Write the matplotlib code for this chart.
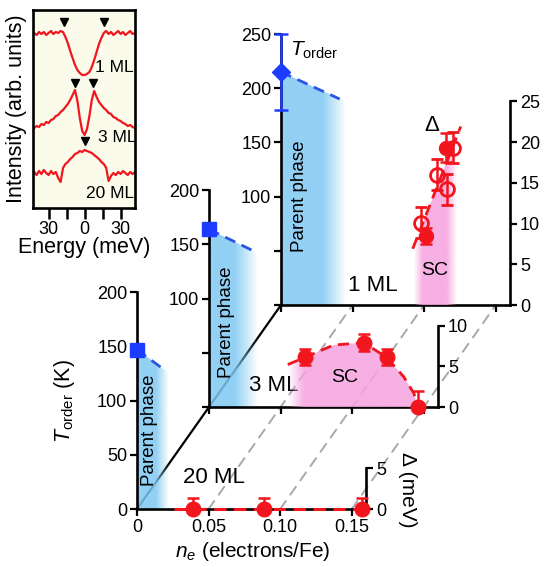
import numpy as np
import matplotlib
matplotlib.use("Agg")
import matplotlib.pyplot as plt
from matplotlib.colors import to_rgb
from matplotlib.patches import ConnectionPatch

plt.rcParams["font.family"] = ["Liberation Sans", "DejaVu Sans"]
plt.rcParams["mathtext.fontset"] = "custom"
plt.rcParams["mathtext.rm"] = "Liberation Sans"
plt.rcParams["mathtext.it"] = "Liberation Sans:italic"

# ============================================================
# DATA
# ============================================================
# inset tunnelling spectra (meV, arb. units, already offset)
energy = [-42, -40, -38, -36, -34, -32, -30, -28, -26, -24, -22, -20, -18, -16,
          -14, -12, -10, -8, -6, -4, -2, 0, 2, 4, 6, 8, 10, 12, 14, 16, 18, 20,
          22, 24, 26, 28, 30, 32, 34, 36, 38, 40, 42]
spec_1ml = [175, 173, 176, 174, 176, 173, 175, 177, 174, 176, 175, 177, 176, 171,
            165, 157, 150, 143, 138, 135, 133, 133, 134, 136, 141, 148, 156, 164,
            170, 175, 177, 174, 176, 173, 175, 177, 174, 176, 173, 175, 177, 174, 175]
spec_3ml = [80, 82, 81, 84, 83, 86, 85, 88, 89, 92, 93, 96, 98, 101, 104, 108,
            113, 118, 107, 90, 77, 73, 79, 92, 108, 117, 111, 106, 103, 100, 98,
            95, 94, 91, 90, 88, 87, 85, 84, 82, 83, 81, 80]
spec_20ml = [36, 33, 37, 34, 38, 35, 33, 37, 34, 36, 30, 26, 40, 44, 46, 49, 51,
             54, 55, 57, 56, 58, 57, 56, 55, 53, 51, 49, 46, 44, 40, 27, 32, 35,
             33, 36, 34, 37, 35, 33, 36, 34, 36]
peak_E = [-17, 16, -8, 7, 0]
peak_I = [186, 186, 125, 125, 67]

# 20 ML
t20_n = [0.0, 0.0195]
t20_T = [147, 128]
blue20_n = [0.0, 0.022]
blue20_T = [147, 126]
d20_n = [0.039, 0.089, 0.157]
d20_D = [0, 0, 0]
d20_err = [1.4, 1.4, 1.4]
d20_line_n = [0.026, 0.160]
d20_line_D = [0, 0]

# 3 ML
t3_n = [0.0, 0.031]
t3_T = [164, 144]
blue3_n = [0.0, 0.034]
blue3_T = [164, 142]
d3_n = [0.067, 0.108, 0.124, 0.146]
d3_D = [6.1, 7.9, 6.1, 0.0]
d3_lo = [1.0, 1.0, 1.0, 0.0]
d3_hi = [1.0, 1.0, 1.0, 2.0]
d3_curve_n = [0.055, 0.067, 0.087, 0.108, 0.124, 0.136, 0.143, 0.146]
d3_curve_D = [5.2, 6.1, 7.6, 7.9, 6.1, 3.7, 1.7, 0.0]

# 1 ML
t1_n = [0.0, 0.041]
t1_T = [215, 190]
t1_err = 35
blue1_n = [0.0, 0.045]
blue1_T = [215, 188]
d1_line_n = [0.092, 0.1255]
d1_line_D = [6.9, 21.9]
pink1_n = [0.093, 0.123]
pink1_D = [7.3, 20.8]
d1_full_n = [0.101, 0.115]
d1_full_D = [8.5, 19.3]
d1_full_err = [1.0, 1.8]
d1_open_n = [0.098, 0.109, 0.116, 0.120]
d1_open_D = [10.1, 16.0, 14.2, 19.3]
d1_open_err = [1.9, 1.9, 1.9, 1.9]

n_ticks = [0, 0.05, 0.10, 0.15]
n_ticklabels = ["0", "0.05", "0.10", "0.15"]

# ============================================================
# LAYOUT (pixels)
# ============================================================
W, H = 544, 567
N_PX = 1432.0     # px per electron/Fe
T_PX = 1.084      # px per K
D_PX = 8.15       # px per meV
NMAX = 0.16

RED = "#f2151d"
BLUE = "#1c3cff"
DBLUE = "#2a55e6"
SKY = "#7ec8f2"
PINK = "#f6a2df"

fig = plt.figure(figsize=(W / 100, H / 100), dpi=100)


def make_panel(x0, y0, tmax, dmax, ytl, z, xlabels=False):
    w, h = NMAX * N_PX, tmax * T_PX
    ax = fig.add_axes([x0 / W, (H - y0) / H, w / W, h / H], zorder=z)
    ax.patch.set_visible(False)
    axd = ax.twinx()
    axd.set_zorder(z)
    axd.patch.set_visible(False)
    for s in ["top", "right"]:
        ax.spines[s].set_visible(False)
    for s in ["top", "left", "bottom"]:
        axd.spines[s].set_visible(False)
    for a in (ax, axd):
        for s in a.spines.values():
            s.set_linewidth(1.9)
        a.tick_params(width=1.6, length=5, labelsize=13, direction="out", pad=2)
    ax.spines["left"].set_bounds(0, tmax)
    axd.spines["right"].set_bounds(0, dmax)
    ax.set_xticks(n_ticks)
    ax.set_xticklabels(n_ticklabels if xlabels else [])
    yt = list(range(0, tmax + 1, 50))
    ax.set_yticks(yt)
    ax.set_yticklabels([str(v) if v in ytl else "" for v in yt])
    dt = list(range(0, dmax + 1, 5))
    axd.set_yticks(dt)
    axd.set_yticklabels([str(v) for v in dt])
    ax._lims = (tmax, tmax * T_PX / D_PX)
    return ax, axd


def shade(ax, n, top, color, stops_n, stops_a, z=1):
    poly = ax.fill_between(n, 0, top, facecolor="none", edgecolor="none")
    xs = np.linspace(n[0], n[-1], 256)
    rgba = np.zeros((1, 256, 4))
    rgba[..., :3] = to_rgb(color)
    rgba[..., 3] = np.interp(xs, stops_n, stops_a)
    im = ax.imshow(rgba, extent=(n[0], n[-1], 0, max(top)), origin="lower",
                   aspect="auto", interpolation="bilinear", zorder=z)
    im.set_clip_path(poly.get_paths()[0], transform=ax.transData)


def finish(ax, axd):
    tmax, dmax = ax._lims
    ax.set_xlim(0, NMAX)
    ax.set_ylim(0, tmax)
    axd.set_ylim(0, dmax)


# ── 1 ML (back) ──────────────────────────────────────────────
ax1, ax1d = make_panel(281, 305, 250, 25, [100, 150, 200, 250], 1)
shade(ax1, blue1_n, blue1_T, SKY, [0, 0.029, 0.045], [0.85, 0.85, 0.0])
shade(ax1d, pink1_n, pink1_D, PINK, [0.093, 0.099, 0.116, 0.123],
      [0.0, 0.85, 0.85, 0.0])
ax1.plot(t1_n, t1_T, "--", color=DBLUE, lw=2, dashes=(4, 2.5), zorder=3)
ax1.errorbar(t1_n[:1], t1_T[:1], yerr=t1_err, fmt="D", color=BLUE, ms=9,
             lw=1.8, capsize=5, capthick=1.8, clip_on=False, zorder=4)
ax1d.plot(d1_line_n, d1_line_D, "--", color=RED, lw=2, dashes=(4, 2.5), zorder=3)
ax1d.errorbar(d1_full_n, d1_full_D, yerr=d1_full_err, fmt="o", color=RED,
              ms=10, lw=1.8, capsize=4, capthick=1.8, zorder=4)
ax1d.errorbar(d1_open_n, d1_open_D, yerr=d1_open_err, fmt="o", color=RED,
              mfc="none", mew=2, ms=10, lw=1.8, capsize=4, capthick=1.8, zorder=5)
ax1.text(0.006, 235, r"$T_\mathregular{order}$", fontsize=15, ha="left", va="center")
ax1.text(0.013, 100, "Parent phase", rotation=90, fontsize=13.5, ha="center", va="center")
ax1.text(0.064, 18, "1 ML", fontsize=16, ha="center", va="center")
ax1d.text(0.105, 22, "Δ", fontsize=16, ha="center", va="center")
ax1d.text(0.107, 4.2, "SC", fontsize=14, ha="center", va="center")
finish(ax1, ax1d)

# ── 3 ML (middle) ────────────────────────────────────────────
ax3, ax3d = make_panel(209, 407, 200, 10, [100, 150, 200], 2)
shade(ax3, blue3_n, blue3_T, SKY, [0, 0.018, 0.034], [0.85, 0.85, 0.0])
shade(ax3d, d3_curve_n, d3_curve_D, PINK, [0.055, 0.066, 0.146], [0.0, 0.85, 0.85])
ax3.plot(t3_n, t3_T, "--", color=DBLUE, lw=2, dashes=(4, 2.5), zorder=3)
ax3.plot(t3_n[:1], t3_T[:1], "s", color=BLUE, ms=10, clip_on=False, zorder=4)
ax3d.plot(d3_curve_n, d3_curve_D, "--", color=RED, lw=2, dashes=(4, 2.5), zorder=3)
ax3d.errorbar(d3_n, d3_D, yerr=[d3_lo, d3_hi], fmt="o", color=RED, ms=10.5,
              lw=1.8, capsize=4, capthick=1.8, clip_on=False, zorder=4)
ax3.text(0.012, 78, "Parent phase", rotation=90, fontsize=13.5, ha="center", va="center")
ax3.text(0.045, 20, "3 ML", fontsize=16, ha="center", va="center")
ax3d.text(0.095, 3.6, "SC", fontsize=14, ha="center", va="center")
finish(ax3, ax3d)

# ── 20 ML (front) ────────────────────────────────────────────
ax20, ax20d = make_panel(137, 509, 200, 5, [0, 50, 100, 150, 200], 3, xlabels=True)
shade(ax20, blue20_n, blue20_T, SKY, [0, 0.013, 0.022], [0.85, 0.85, 0.0])
ax20.plot(t20_n, t20_T, "--", color=DBLUE, lw=2, dashes=(4, 2.5), zorder=3)
ax20.plot(t20_n[:1], t20_T[:1], "s", color=BLUE, ms=10, clip_on=False, zorder=4)
ax20d.plot(d20_line_n, d20_line_D, "--", color=RED, lw=2.2, dashes=(4, 2.5),
           clip_on=False, zorder=3)
ax20d.errorbar(d20_n, d20_D, yerr=[[0] * 3, d20_err], fmt="o", color=RED,
               ms=10.5, lw=1.8, capsize=4, capthick=1.8, clip_on=False, zorder=4)
ax20.text(0.009, 73, "Parent phase", rotation=90, fontsize=13.5, ha="center", va="center")
ax20.text(0.054, 29, "20 ML", fontsize=16, ha="center", va="center")
ax20d.text(1.18, 0.09, "Δ (meV)", rotation=270, fontsize=15, ha="center",
           va="center", transform=ax20d.transAxes)
ax20.set_ylabel(r"$T_\mathregular{order}$ (K)", fontsize=15.5)
ax20.yaxis.set_label_coords(-0.26, 0.5)
ax20.set_xlabel(r"$n_e$ (electrons/Fe)", fontsize=15)
ax20.xaxis.set_label_coords(0.507, -0.145)
finish(ax20, ax20d)

# ── depth guide lines between the panels ─────────────────────
fig.add_artist(ConnectionPatch((0, 0), (0, 0), coordsA=ax20.transData,
                               coordsB=ax1.transData, color="black", lw=1.6,
                               zorder=0.5, annotation_clip=False))
for n in n_ticks[1:]:
    fig.add_artist(ConnectionPatch((n, 0), (n, 0), coordsA=ax20.transData,
                                   coordsB=ax1.transData, color="#a8a8a8", lw=1.4,
                                   linestyle=(0, (5, 4)), zorder=0.5,
                                   annotation_clip=False))

# ── inset: spectra ───────────────────────────────────────────
axi = fig.add_axes([33 / W, (H - 208) / H, 102 / W, 198 / H], zorder=4)
axi.set_facecolor("#fbfbec")
for s in axi.spines.values():
    s.set_linewidth(1.9)
for spec in (spec_1ml, spec_3ml, spec_20ml):
    axi.plot(energy, spec, color=RED, lw=1.6)
axi.plot(peak_E, peak_I, "v", color="black", ms=6)
axi.text(25, 140, "1 ML", fontsize=12.5, ha="center", va="center")
axi.text(27.5, 71, "3 ML", fontsize=12.5, ha="center", va="center")
axi.text(21, 15, "20 ML", fontsize=12.5, ha="center", va="center")
axi.set_xlim(-43, 42)
axi.set_ylim(0, 198)
axi.set_yticks([])
axi.set_xticks([-30, -15, 0, 15, 30])
axi.set_xticklabels(["30", "", "0", "", "30"])
axi.tick_params(axis="x", width=1.8, length=8, labelsize=13, pad=1)
axi.set_xlabel("Energy (meV)", fontsize=15.5, labelpad=0)
axi.set_ylabel("Intensity (arb. units)", fontsize=15.5, labelpad=4)

fig.savefig("out.png", dpi=100)
